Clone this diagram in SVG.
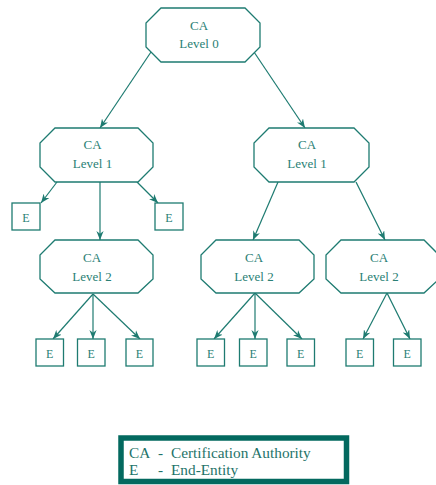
<svg xmlns="http://www.w3.org/2000/svg" width="436" height="485" viewBox="0 0 436 485">
<defs>
<marker id="ah" viewBox="0 0 10 8" refX="10" refY="4" markerWidth="9" markerHeight="7.5" orient="auto" markerUnits="userSpaceOnUse">
<path d="M0,0 L10,4 L0,8 L3,4 z" fill="#1e7b71"/>
</marker>
<style>
.oct{fill:#fff;stroke:#1e7b71;stroke-width:1.3}
.box{fill:#fff;stroke:#1e7b71;stroke-width:1.3}
.t{font-family:"Liberation Serif","Times New Roman",serif;font-size:13px;fill:#2a7f75;text-anchor:middle}
.e{font-family:"Liberation Serif","Times New Roman",serif;font-size:12px;fill:#2a7f75;text-anchor:middle}
.lg{font-family:"Liberation Serif","Times New Roman",serif;font-size:15.3px;fill:#1e7369}
#connectors line{stroke:#1e7b71;stroke-width:1.2;marker-end:url(#ah)}
</style>
</defs>
<rect width="436" height="485" fill="#fff"/>
<g id="connectors">
<line x1="151" y1="52" x2="100" y2="128"/>
<line x1="254" y1="52" x2="305" y2="128"/>
<line x1="57" y1="182" x2="41" y2="203"/>
<line x1="137" y1="182" x2="158" y2="203"/>
<line x1="100" y1="182" x2="100" y2="240"/>
<line x1="278" y1="182" x2="253" y2="240"/>
<line x1="356" y1="182" x2="385" y2="240"/>
<line x1="93" y1="294" x2="53" y2="339"/>
<line x1="93" y1="294" x2="93" y2="339"/>
<line x1="93" y1="294" x2="140" y2="339"/>
<line x1="255" y1="293" x2="214" y2="339"/>
<line x1="255" y1="293" x2="255" y2="339"/>
<line x1="255" y1="293" x2="302" y2="339"/>
<line x1="387" y1="293" x2="363" y2="339"/>
<line x1="387" y1="293" x2="410" y2="339"/>
</g>
<g id="ca0">
<path class="oct" d="M161,8 H245 L260,23 V47 L245,62 H161 L146,47 V23 Z"/>
<text class="t" x="199" y="30">CA</text>
<text class="t" x="199" y="48">Level 0</text>
</g>
<g id="ca1a">
<path class="oct" d="M55,128 H138 L153,143 V167 L138,182 H55 L40,167 V143 Z"/>
<text class="t" x="92.5" y="149">CA</text>
<text class="t" x="92.5" y="168">Level 1</text>
</g>
<g id="ca1b">
<path class="oct" d="M269,128 H354 L369,143 V167 L354,182 H269 L254,167 V143 Z"/>
<text class="t" x="307" y="149">CA</text>
<text class="t" x="307" y="168">Level 1</text>
</g>
<g id="ca2a">
<path class="oct" d="M55,240 H138 L153,255 V279 L138,293 H55 L40,279 V255 Z"/>
<text class="t" x="92" y="262">CA</text>
<text class="t" x="92" y="281">Level 2</text>
</g>
<g id="ca2b">
<path class="oct" d="M216,240 H299 L314,255 V279 L299,293 H216 L201,279 V255 Z"/>
<text class="t" x="254" y="262">CA</text>
<text class="t" x="254" y="281">Level 2</text>
</g>
<g id="ca2c">
<path class="oct" d="M341,240 H424 L439,255 V279 L424,293 H341 L326,279 V255 Z"/>
<text class="t" x="379" y="262">CA</text>
<text class="t" x="379" y="281">Level 2</text>
</g>
<g id="e1"><rect class="box" x="12" y="203" width="28" height="27"/><text class="e" x="26" y="222">E</text></g>
<g id="e2"><rect class="box" x="155" y="203" width="28" height="27"/><text class="e" x="169" y="222">E</text></g>
<g id="e3"><rect class="box" x="36" y="339" width="27.5" height="27"/><text class="e" x="49.7" y="358">E</text></g>
<g id="e4"><rect class="box" x="77.5" y="339" width="27.5" height="27"/><text class="e" x="91.2" y="358">E</text></g>
<g id="e5"><rect class="box" x="126" y="339" width="27" height="27"/><text class="e" x="139.5" y="358">E</text></g>
<g id="e6"><rect class="box" x="197" y="339" width="27.5" height="27"/><text class="e" x="210.7" y="358">E</text></g>
<g id="e7"><rect class="box" x="239.5" y="339" width="27.5" height="27"/><text class="e" x="253.2" y="358">E</text></g>
<g id="e8"><rect class="box" x="287" y="339" width="27.5" height="27"/><text class="e" x="300.7" y="358">E</text></g>
<g id="e9"><rect class="box" x="346" y="339" width="27.5" height="27"/><text class="e" x="359.7" y="358">E</text></g>
<g id="e10"><rect class="box" x="393.5" y="339" width="27.5" height="27"/><text class="e" x="407.2" y="358">E</text></g>
<g id="legend">
<rect x="121" y="438" width="225.5" height="43.5" fill="#fff" stroke="#03695f" stroke-width="5.5"/>
<text class="lg" x="129" y="458">CA</text>
<text class="lg" x="158" y="458">-</text>
<text class="lg" x="171" y="458">Certification Authority</text>
<text class="lg" x="129" y="475">E</text>
<text class="lg" x="158" y="475">-</text>
<text class="lg" x="171" y="475">End-Entity</text>
</g>
</svg>
